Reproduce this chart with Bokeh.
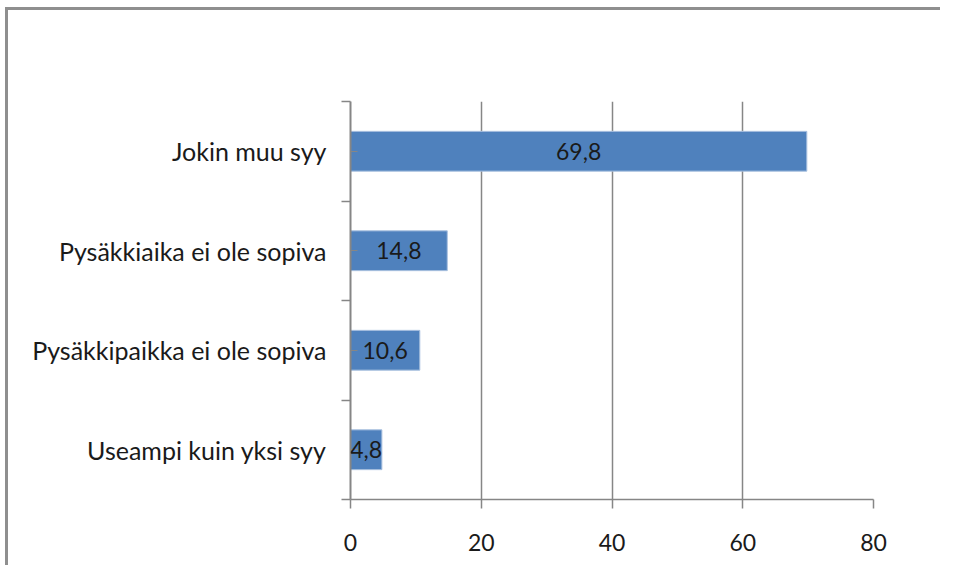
from bokeh.plotting import figure
from bokeh.models import Range1d, FixedTicker, ColumnDataSource, LabelSet
from bokeh.core.properties import value
from bokeh.embed import file_html
from bokeh.resources import INLINE

categories = ["Jokin muu syy", "Pysäkkiaika ei ole sopiva",
              "Pysäkkipaikka ei ole sopiva", "Useampi kuin yksi syy"]
values = [69.8, 14.8, 10.6, 4.8]
x_ticks = [0, 20, 40, 60, 80]

n = len(categories)
ypos = [n - i - 0.5 for i in range(n)]
labels = [f"{v:.1f}".replace(".", ",") for v in values]
src = ColumnDataSource(dict(y=ypos, v=values, mid=[v / 2 for v in values], lab=labels))

FONT = "Lato"
TXT = "#1a1a1a"
GRAY = "#868686"
FRAME = "#8f8f8f"

# outer chart-area border (open at right and bottom), painted behind a transparent canvas
border_css = (f"linear-gradient({FRAME},{FRAME}) 6px 7px / 100% 3px no-repeat, "
              f"linear-gradient({FRAME},{FRAME}) 5px 7px / 3px 100% no-repeat, white")

p = figure(width=940, height=565, output_backend="svg", toolbar_location=None,
           x_range=Range1d(0, 80), y_range=Range1d(0, n),
           min_border_left=350, min_border_right=67, min_border_top=101, min_border_bottom=66,
           styles={"background": border_css})
p.outline_line_color = None
p.background_fill_color = "white"
p.border_fill_color = None

p.hbar(y="y", right="v", left=0, height=0.4, source=src,
       fill_color="#4F81BD", line_color="#A9C0DF", line_width=1)

p.add_layout(LabelSet(x="mid", y="y", text="lab", source=src, text_align="center",
                      text_baseline="middle", text_font=value(FONT), text_font_size="23px",
                      text_color=TXT))

# x axis
p.xaxis.ticker = FixedTicker(ticks=x_ticks)
p.xaxis.axis_line_color = GRAY
p.xaxis.axis_line_width = 1.5
p.xaxis.major_tick_line_color = GRAY
p.xaxis.major_tick_line_width = 1.5
p.xaxis.major_tick_in = 0
p.xaxis.major_tick_out = 9
p.xaxis.minor_tick_line_color = None
p.xaxis.major_label_text_font = FONT
p.xaxis.major_label_text_font_size = "23px"
p.xaxis.major_label_text_color = TXT
p.xaxis.major_label_standoff = 25

# y axis: labels at category centres, ticks at category boundaries
p.yaxis.ticker = FixedTicker(ticks=ypos, minor_ticks=list(range(n + 1)))
p.yaxis.major_label_overrides = {y: c for y, c in zip(ypos, categories)}
p.yaxis.axis_line_color = GRAY
p.yaxis.axis_line_width = 2
p.yaxis.major_tick_line_color = GRAY
p.yaxis.major_tick_in = 7
p.yaxis.major_tick_out = 0
p.yaxis.minor_tick_line_color = GRAY
p.yaxis.minor_tick_line_width = 1.5
p.yaxis.minor_tick_in = 0
p.yaxis.minor_tick_out = 9
p.yaxis.major_label_text_font = FONT
p.yaxis.major_label_text_font_size = "25px"
p.yaxis.major_label_text_color = TXT
p.yaxis.major_label_standoff = 15

p.xgrid.ticker = FixedTicker(ticks=x_ticks)
p.xgrid.grid_line_color = GRAY
p.xgrid.grid_line_width = 1.5
p.ygrid.grid_line_color = None

open("out.html", "w").write(file_html(p, INLINE))
